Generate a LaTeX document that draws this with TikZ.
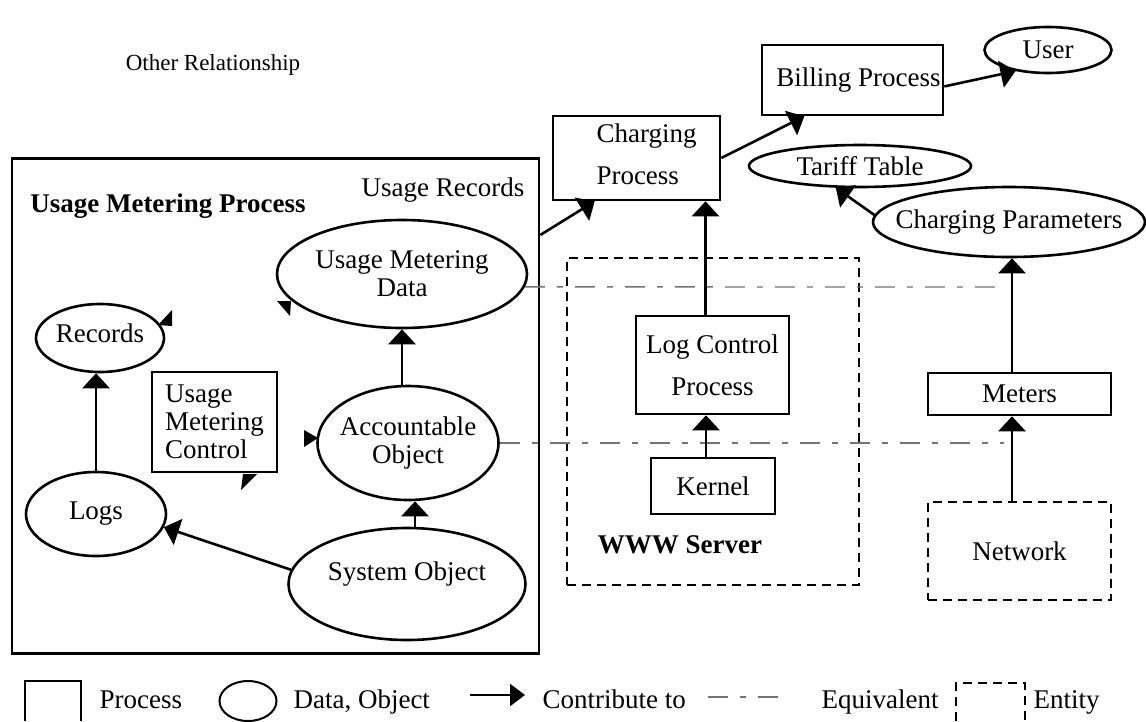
\documentclass[tikz,border=0pt]{standalone}
\usepackage{fontspec}
\setmainfont{Liberation Serif}
\usetikzlibrary{shapes.geometric,arrows.meta}

\begin{document}
\begin{tikzpicture}[x=1pt, y=-1pt, font=\fontsize{27}{28}\selectfont, proc/.style={draw, line width=2.6pt, inner sep=0pt}, dat/.style={draw, ellipse, line width=2.6pt, inner sep=0pt}, entity/.style={draw, line width=1.3pt, dash pattern=on 9pt off 6pt, inner sep=0pt}, contrib/.style={line width=2.6pt, -{Triangle[width=27pt,length=15pt]}}, equiv/.style={line width=1.4pt, black!55, dash pattern=on 20pt off 12pt on 6pt off 12pt}, boldlabel/.style={font=\fontsize{27}{28}\selectfont\bfseries}, legendtext/.style={anchor=base west}]
\useasboundingbox (0,0) rectangle (1146,721);
\node[font=\fontsize{23}{24}\selectfont] (otherrel) at (213,65) {Other Relationship};
\node[proc, minimum width=527pt, minimum height=495pt] (ump) at (275.5,406) {};
\node[boldlabel] (umplabel) at (168,206) {Usage Metering Process};
\node (urlabel) at (443,190) {Usage Records};
\node[dat, minimum width=250pt, minimum height=108pt, label={[align=center]center:Usage Metering\\Data}] (umd) at (402,274) {};
\node[dat, minimum width=128pt, minimum height=68pt, label={[yshift=5pt]center:Records}] (records) at (100,338) {};
\node[proc, minimum width=125pt, minimum height=100pt, align=left] (umc) at (214.5,422) {Usage\\Metering\\Control};
\node[dat, minimum width=181pt, minimum height=114pt, label={[align=center]center:Accountable\\Object}] (ao) at (408,443) {};
\node[dat, minimum width=140pt, minimum height=84pt, label={center:Logs}] (logs) at (96,514) {};
\node[dat, minimum width=237pt, minimum height=112pt, label={[yshift=10pt]center:System Object}] (so) at (407,584) {};
\node[proc, minimum width=167pt, minimum height=84pt, label={[align=left, xshift=10pt, yshift=4pt]center:Charging\\[14pt]Process}] (charging) at (636.5,158) {};
\node[proc, minimum width=181pt, minimum height=70pt, label={[xshift=6pt]center:Billing Process}] (billing) at (852.5,80) {};
\node[dat, minimum width=127pt, minimum height=46pt, label={center:User}] (user) at (1048,50) {};
\node[dat, minimum width=222pt, minimum height=42pt, label={center:Tariff Table}] (tariff) at (860,166) {};
\node[dat, minimum width=272pt, minimum height=70pt, label={center:Charging Parameters}] (cparam) at (1009,222) {};
\node[entity, minimum width=292pt, minimum height=327pt] (www) at (713,421.5) {};
\node[boldlabel] (wwwlabel) at (680,545) {WWW Server};
\node[proc, minimum width=153pt, minimum height=98pt, align=center] (lcp) at (712.5,365) {Log Control\\[14pt]Process};
\node[proc, minimum width=124pt, minimum height=56pt] (kernel) at (713,486) {Kernel};
\node[proc, minimum width=183pt, minimum height=42pt] (meters) at (1019.5,394) {Meters};
\node[entity, minimum width=183pt, minimum height=98pt] (network) at (1019.5,551) {Network};
\coordinate (eqa) at (1004,287);
\coordinate (eqb) at (1004,443);
\draw[equiv] (umd.-6) -- (eqa);
\draw[equiv] (ao.east) -- (eqb);
\draw[contrib] (logs.north) -- (logs.north |- records.south);
\draw[contrib] (so.173) -- (logs.-11);
\draw[contrib] ([xshift=8pt]so.north) -- ([xshift=8pt]so.north |- ao.south);
\draw[contrib] (umd.south |- ao.north) -- (umd.south);
\draw[contrib] ([xshift=-7pt]kernel.north) -- ([xshift=-7pt]kernel.north |- lcp.south);
\draw[contrib] ([xshift=-7pt]lcp.north) -- ([xshift=-7pt]lcp.north |- charging.south);
\draw[contrib] (ump.north east |- 0,235) -- (charging.-134);
\draw[contrib] (charging.east) -- (billing.-143);
\draw[contrib] (billing.-4) -- (user.-147);
\draw[contrib] (cparam.177) -- (tariff.-138);
\draw[contrib] ([xshift=3pt]network.north -| cparam.south) -- ([xshift=3pt]meters.south -| cparam.south);
\draw[contrib] ([xshift=3pt]meters.north -| cparam.south) -- ([xshift=3pt]cparam.south);
\fill (158,325) -- (172,310) -- (172,326) -- cycle;
\fill (277,301) -- (291,301) -- (290,316) -- cycle;
\fill (304,430) -- (318,438) -- (304,447) -- cycle;
\fill (243,474) -- (257,474) -- (241,490) -- cycle;
\draw[line width=2pt] (25,721) |- (81,681) -- (81,721);
\node[legendtext] (lgproc) at (96,708) {Process};
\node[dat, line width=2pt, minimum width=57pt, minimum height=40pt] (lgdat) at (248,701) {};
\node[legendtext] (lgdattext) at (290,708) {Data, Object};
\coordinate (lgarra) at (470,695);
\coordinate (lgarrb) at (525,695);
\draw[contrib, -{Triangle[width=22pt,length=15pt]}] (lgarra) -- (lgarrb);
\node[legendtext] (lgcontrib) at (539,708) {Contribute to};
\coordinate (lgeqa) at (708,697);
\coordinate (lgeqb) at (788,697);
\draw[equiv] (lgeqa) -- (lgeqb);
\node[legendtext] (lgequiv) at (818,708) {Equivalent};
\draw[line width=1.3pt, dash pattern=on 9pt off 6pt] (956,721) |- (1025,683) -- (1025,721);
\node[legendtext] (lgentity) at (1030,708) {Entity};
\end{tikzpicture}
\end{document}
